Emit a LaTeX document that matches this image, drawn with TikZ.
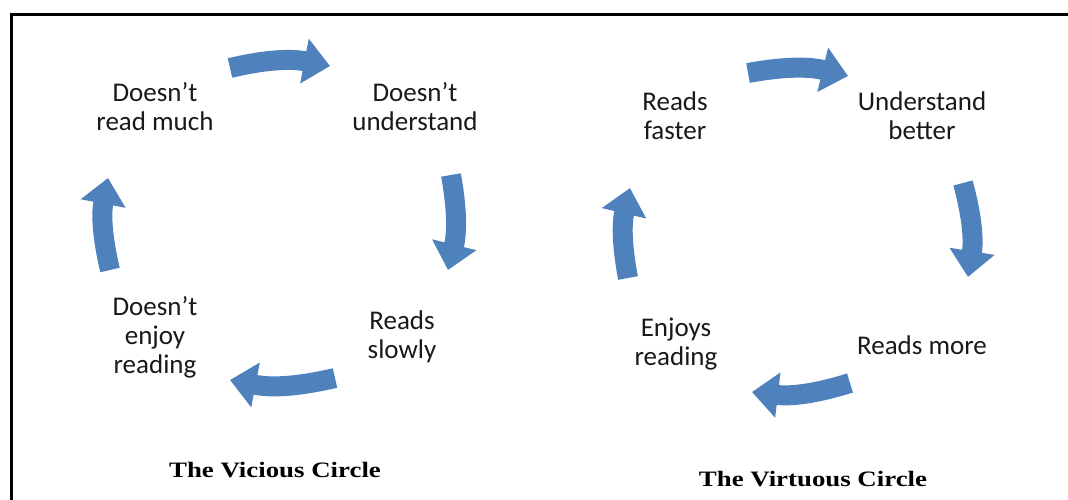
\documentclass[tikz,border=0pt]{standalone}
\usepackage{fontspec}
\setmainfont{Carlito}
\newfontfamily\titlefont{Liberation Serif}[FakeStretch=1.22]
\usetikzlibrary{arrows.meta}
\definecolor{cycleblue}{RGB}{79,129,189}

\begin{document}
\begin{tikzpicture}[x=1pt,y=1pt]

      \useasboundingbox (0,0) rectangle (1068,-500);
      \draw[line width=3pt] (11,-14.5) rectangle (1085,-520);

      \begin{scope}[every node/.style={align=center,text=black!90,
          font=\fontsize{27}{29}\selectfont}]
        \node (v1) at (155,-107) {Doesn't\\read much};
        \node (v2) at (415,-107) {Doesn't\\understand};
        \node (v3) at (402,-337) {Reads\\slowly};
        \node (v4) at (155,-337) {Doesn't\\enjoy\\reading};
        \node (g1) at (675,-116) {Reads\\faster};
        \node (g2) at (922,-116) {Understand\\better};
        \node (g3) at (922,-345) {Reads more};
        \node (g4) at (676,-344) {Enjoys\\reading};
      \end{scope}

      \begin{scope}[every node/.style={font=\titlefont\bfseries\fontsize{22}{24}\selectfont}]
        \node (t1) at (275,-470) {The Vicious Circle};
        \node (t2) at (813,-479) {The Virtuous Circle};
      \end{scope}

      % arrow ends, vicious circle
      \coordinate (v12) at (230,-68);
      \coordinate (v21) at (330,-66);
      \coordinate (v23) at (451,-175);
      \coordinate (v32) at (448,-270);
      \coordinate (v34) at (335,-378);
      \coordinate (v43) at (230,-380);
      \coordinate (v41) at (110,-270);
      \coordinate (v14) at (108,-178);
      % arrow ends, virtuous circle
      \coordinate (g12) at (748,-73);
      \coordinate (g21) at (848,-76);
      \coordinate (g23) at (963,-183);
      \coordinate (g32) at (968,-277);
      \coordinate (g34) at (850,-383);
      \coordinate (g43) at (752,-392);
      \coordinate (g41) at (628,-278);
      \coordinate (g14) at (630,-188);

      \begin{scope}[every edge/.style={draw=cycleblue,line width=20pt,
          -{Triangle[length=26pt,width=44pt]}}]
        \path (v12) edge[bend left=12] (v21);
        \path (v23) edge[bend left=12] (v32);
        \path (v34) edge[bend left=12] (v43);
        \path (v41) edge[bend left=12] (v14);
        \path (g12) edge[bend left=12] (g21);
        \path (g23) edge[bend left=12] (g32);
        \path (g34) edge[bend left=12] (g43);
        \path (g41) edge[bend left=12] (g14);
      \end{scope}

    \end{tikzpicture}
\end{document}
